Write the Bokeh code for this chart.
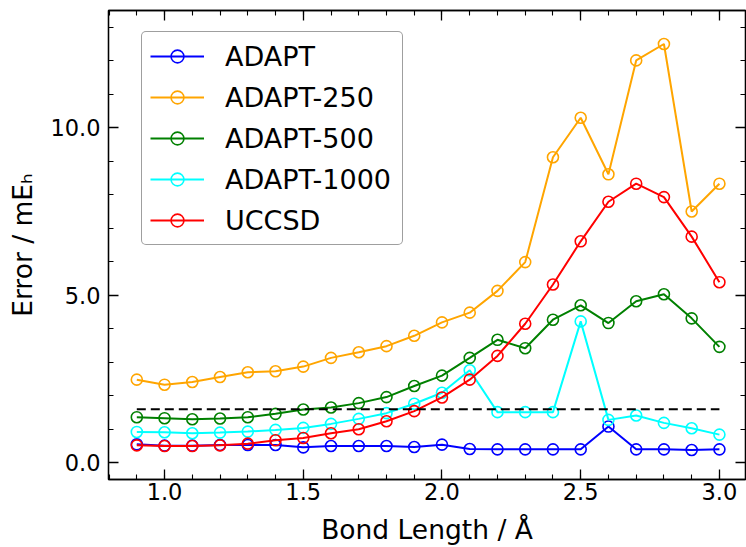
from bokeh.plotting import figure
from bokeh.models import (Range1d, LinearAxis, SingleIntervalTicker,
                          NumeralTickFormatter, CustomJSTickFormatter)
from bokeh.embed import file_html
from bokeh.resources import INLINE

# ---- data ----
bond_length = [0.9, 1.0, 1.1, 1.2, 1.3, 1.4, 1.5, 1.6, 1.7, 1.8, 1.9,
               2.0, 2.1, 2.2, 2.3, 2.4, 2.5, 2.6, 2.7, 2.8, 2.9, 3.0]
adapt = [0.55, 0.51, 0.51, 0.53, 0.53, 0.53, 0.46, 0.50, 0.50, 0.50, 0.47,
         0.54, 0.41, 0.40, 0.40, 0.40, 0.40, 1.08, 0.40, 0.40, 0.38, 0.40]
adapt_250 = [2.48, 2.33, 2.41, 2.56, 2.70, 2.73, 2.87, 3.13, 3.30, 3.48, 3.79,
             4.19, 4.48, 5.13, 5.99, 9.12, 10.30, 8.61, 12.01, 12.50, 7.50, 8.33]
adapt_500 = [1.36, 1.33, 1.30, 1.32, 1.36, 1.46, 1.59, 1.65, 1.78, 1.96, 2.29,
             2.60, 3.13, 3.67, 3.42, 4.27, 4.70, 4.17, 4.82, 5.03, 4.31, 3.46]
adapt_1000 = [0.92, 0.91, 0.88, 0.90, 0.93, 0.98, 1.04, 1.16, 1.31, 1.48, 1.76,
              2.09, 2.76, 1.51, 1.51, 1.51, 4.22, 1.28, 1.41, 1.19, 1.03, 0.84]
uccsd = [0.52, 0.50, 0.50, 0.52, 0.57, 0.67, 0.74, 0.88, 1.00, 1.24, 1.54,
         1.95, 2.48, 3.19, 4.15, 5.32, 6.61, 7.79, 8.33, 7.93, 6.75, 5.39]
chem_acc_x = [0.9, 3.0]
chem_acc_y = [1.6, 1.6]

series_names = ["ADAPT", "ADAPT-250", "ADAPT-500", "ADAPT-1000", "UCCSD"]
series_values = [adapt, adapt_250, adapt_500, adapt_1000, uccsd]
series_colors = ["blue", "orange", "green", "cyan", "red"]

x_label = "Bond Length / Å"
y_label = "Error / mEₕ"

FONT = "DejaVu Sans"

p = figure(width=746, height=547, output_backend="svg", toolbar_location=None,
           x_range=Range1d(0.798, 3.094), y_range=Range1d(-0.5, 13.5),
           min_border_left=108, min_border_right=1, min_border_top=10,
           min_border_bottom=68)
p.grid.visible = False
p.outline_line_color = "black"
p.outline_line_width = 1.3
p.background_fill_color = "white"
p.border_fill_color = "white"

for name, vals, col in zip(series_names, series_values, series_colors):
    p.line(bond_length, vals, line_color=col, line_width=2, legend_label=name)
    p.scatter(bond_length, vals, marker="circle", size=11, fill_color=None,
              line_color=col, line_width=1.6, legend_label=name)

p.line(chem_acc_x, chem_acc_y, line_color="black", line_width=2,
       line_dash="9 5")

def style_axis(ax, labels=True, standoff=8):
    ax.axis_line_color = "black"
    ax.axis_line_width = 1.3
    ax.major_tick_line_color = "black"
    ax.minor_tick_line_color = "black"
    ax.major_tick_line_width = 1.3
    ax.minor_tick_line_width = 1.1
    ax.major_tick_in = 10
    ax.major_tick_out = 0
    ax.minor_tick_in = 5
    ax.minor_tick_out = 0
    ax.major_label_text_font = FONT
    ax.major_label_text_color = "black"
    ax.major_label_text_font_size = "22.5px"
    ax.axis_label_text_font = FONT
    ax.axis_label_text_font_style = "normal"
    ax.axis_label_text_font_size = "26.5px"
    ax.axis_label_text_color = "black"
    if labels:
        ax.major_label_standoff = standoff
        ax.formatter = NumeralTickFormatter(format="0.0")
    else:
        ax.major_label_standoff = 0
        ax.formatter = CustomJSTickFormatter(code="return ''")

xb = p.xaxis[0]
xb.ticker = SingleIntervalTicker(interval=0.5, num_minor_ticks=5)
style_axis(xb, standoff=3)
xb.axis_label = x_label
xb.axis_label_standoff = 11

yl = p.yaxis[0]
yl.ticker = SingleIntervalTicker(interval=5, num_minor_ticks=5)
style_axis(yl, standoff=8)
yl.axis_label = y_label
yl.axis_label_standoff = 9

xt = LinearAxis(ticker=SingleIntervalTicker(interval=0.5, num_minor_ticks=5))
style_axis(xt, labels=False)
p.add_layout(xt, "above")
yr = LinearAxis(ticker=SingleIntervalTicker(interval=5, num_minor_ticks=5))
style_axis(yr, labels=False)
p.add_layout(yr, "right")

lg = p.legend[0]
lg.location = (33, 234)
lg.label_text_font = FONT
lg.label_text_font_size = "27px"
lg.label_text_color = "black"
lg.glyph_width = 54
lg.glyph_height = 32
lg.label_height = 32
lg.label_width = 169
lg.label_standoff = 21
lg.spacing = 9
lg.padding = 8
lg.margin = 0
lg.border_line_color = "#404040"
lg.border_line_width = 1.3
lg.border_radius = 5
lg.background_fill_alpha = 0.8

open("out.html", "w").write(file_html(p, INLINE))
